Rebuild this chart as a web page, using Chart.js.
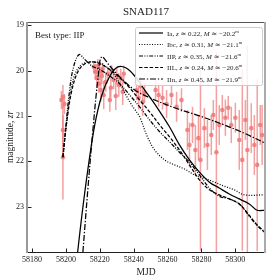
<!DOCTYPE html>
<html>
<head>
<meta charset="utf-8">
<script src="https://cdn.jsdelivr.net/npm/chart.js@4.4.0/dist/chart.umd.min.js"></script>
<style>
  html, body { margin: 0; padding: 0; background: #fff; }
</style>
</head>
<body>
<canvas id="chart" width="280" height="280"></canvas>
<script>
const SERIF = '"Liberation Serif", "DejaVu Serif", serif';

// observations (zr band)
const obsMjd = [58197.3, 58198.2, 58199.1, 58198.2, 58198.2,
  58216.5, 58217.3, 58218.2, 58218.8, 58219.4, 58220.0, 58220.6, 58221.2, 58221.7, 58222.3,
  58223.5, 58224.7, 58225.9, 58226.5, 58227.0, 58228.2, 58229.4, 58230.0, 58231.2, 58232.3,
  58233.5, 58234.1,
  58241.7, 58242.9, 58244.1, 58245.3, 58246.4, 58252.9, 58254.7,
  58257.0, 58259.4, 58262.3, 58265.3, 58268.2,
  58271.7, 58272.9, 58274.7, 58276.4, 58278.2, 58279.4, 58281.7, 58283.5, 58285.8, 58287.0,
  58288.8, 58290.5, 58292.3, 58294.1,
  58295.8, 58297.6, 58300.0, 58302.3, 58304.1, 58305.9, 58307.1, 58309.4, 58311.2, 58312.9,
  58314.7, 58315.8];
const obsMag = [20.65, 20.58, 20.74, 21.31, 21.91,
  19.92, 20.03, 20.16, 19.90, 20.29, 20.03, 20.43, 20.12, 19.96, 20.54,
  20.25, 20.07, 20.65, 20.38, 20.01, 20.21, 20.56, 20.12, 20.32, 20.16,
  20.47, 20.07,
  20.43, 20.60, 20.34, 20.69, 20.49, 20.43, 20.54,
  20.60, 20.74, 20.54, 20.80, 20.65,
  21.31, 21.64, 21.20, 21.75, 21.49, 21.97, 21.27, 21.64, 21.42, 20.98,
  21.80, 21.20, 20.87, 21.04,
  20.82, 21.20, 21.04, 21.53, 21.97, 21.09, 21.75, 21.27, 21.64, 22.08,
  21.20, 21.42];
const obsErr = [0.20, 0.26, 0.22, 0.55, 0.93,
  0.13, 0.18, 0.22, 0.15, 0.20, 0.18, 0.26, 0.18, 0.13, 0.31,
  0.22, 0.15, 0.26, 0.22, 0.13, 0.20, 0.31, 0.18, 0.26, 0.20,
  0.29, 0.18,
  0.22, 0.26, 0.20, 0.31, 0.22, 0.22, 0.26,
  0.26, 0.31, 0.22, 0.33, 0.26,
  0.44, 0.49, 0.40, 0.55, 0.49, 2.00, 0.44, 0.55, 0.44, 0.33,
  2.20, 0.44, 0.33, 0.40,
  0.26, 0.40, 0.33, 0.66, 2.00, 0.44, 2.30, 0.55, 0.66, 1.90,
  0.44, 0.66];

// best-fit templates
const iaMjd = [58206.9, 58209.4, 58212.9, 58217.0, 58221.2, 58225.9, 58230.6, 58235.3, 58240.6, 58246.5,
  58253.5, 58261.1, 58267.0, 58272.9, 58278.8, 58284.7, 58290.5, 58296.4, 58302.3, 58308.2, 58312.9, 58317.6];
const iaMag = [24.0, 23.19, 22.19, 21.20, 20.54, 20.12, 19.92, 19.94, 20.12, 20.43,
  20.80, 21.24, 21.64, 21.97, 22.24, 22.46, 22.59, 22.72, 22.83, 22.94, 23.08, 23.08];

const ibcMjd = [58198.2, 58200.6, 58202.9, 58205.9, 58210.0, 58215.3, 58220.0, 58225.9, 58230.6, 58234.7,
  58238.8, 58243.5, 58247.6, 58252.3, 58258.2, 58264.1, 58270.0, 58275.8, 58281.7, 58287.6,
  58293.5, 58299.4, 58305.2, 58317.6];
const ibcMag = [21.91, 21.09, 20.43, 20.03, 19.85, 19.81, 19.83, 19.98, 20.21, 20.49,
  20.76, 21.02, 21.42, 21.75, 21.97, 22.08, 22.17, 22.30, 22.37, 22.46,
  22.55, 22.63, 22.74, 22.74];

const iipMjd = [58198.2, 58200.0, 58201.8, 58204.1, 58207.6, 58211.2, 58215.3, 58220.0, 58225.9, 58231.7,
  58237.6, 58243.5, 58249.4, 58255.3, 58261.1, 58267.0, 58272.9, 58278.8, 58284.7, 58290.5,
  58296.4, 58302.3, 58308.2, 58312.9, 58317.6];
const iipMag = [21.91, 21.20, 20.54, 19.98, 19.65, 19.76, 19.90, 19.98, 20.12, 20.29,
  20.54, 20.80, 21.09, 21.35, 21.57, 21.80, 22.02, 22.30, 22.59, 22.77,
  22.83, 22.94, 23.21, 23.41, 23.56];

const iilMjd = [58198.2, 58200.6, 58203.5, 58207.0, 58211.2, 58215.9, 58220.0, 58225.9, 58231.7, 58237.6,
  58243.5, 58249.4, 58255.3, 58261.1, 58267.0, 58272.9, 58278.8, 58284.7, 58290.5, 58296.4,
  58302.3, 58308.2, 58312.9, 58317.6];
const iilMag = [21.91, 21.09, 20.43, 20.03, 19.85, 19.81, 19.85, 19.98, 20.16, 20.38,
  20.65, 20.91, 21.20, 21.46, 21.75, 22.08, 22.41, 22.63, 22.74, 22.83,
  22.94, 23.19, 23.41, 23.58];

const iinMjd = [58210.0, 58212.9, 58215.9, 58218.8, 58221.0, 58225.9, 58231.7, 58240.6, 58249.4, 58264.1,
  58278.8, 58293.5, 58305.2, 58317.6];
const iinMag = [24.0, 22.63, 21.31, 20.21, 19.70, 19.90, 20.14, 20.43, 20.60, 20.82,
  21.00, 21.20, 21.38, 21.60];

const modelNames = ['Ia', 'Ibc', 'IIP', 'IIL', 'IIn'];
const modelZ = ['0.22', '0.31', '0.35', '0.24', '0.45'];
const modelM = ['20.2', '21.1', '21.6', '20.6', '21.9'];

const xTicks = [58180, 58200, 58220, 58240, 58260, 58280, 58300];
const yTicks = [19, 20, 21, 22, 23];

const pts = (xs, ys) => xs.map((x, i) => ({x: x, y: ys[i]}));

const dashes = [[], [1, 1.6], [4, 1.4, 1, 1.4, 1, 1.4], [3.5, 1.8], [6, 1.8, 1.4, 1.8]];
const curves = [[iaMjd, iaMag], [ibcMjd, ibcMag], [iipMjd, iipMag], [iilMjd, iilMag], [iinMjd, iinMag]];

const datasets = curves.map((c, i) => ({
  label: modelNames[i],
  data: pts(c[0], c[1]),
  showLine: true,
  borderColor: '#000',
  borderWidth: 1.25,
  borderDash: dashes[i],
  pointRadius: 0,
  tension: 0.35,
  order: 0
}));
datasets.push({
  label: 'obs',
  data: pts(obsMjd, obsMag),
  showLine: false,
  pointRadius: 2.3,
  pointBackgroundColor: 'rgba(240,120,120,0.85)',
  pointBorderWidth: 0,
  order: 1
});

// vertical error bars behind everything
const errorBars = {
  id: 'errorBars',
  beforeDatasetsDraw(chart) {
    const {ctx, chartArea: a} = chart;
    const x = chart.scales.x, y = chart.scales.y;
    ctx.save();
    ctx.beginPath();
    ctx.rect(a.left, a.top, a.right - a.left, a.bottom - a.top);
    ctx.clip();
    ctx.strokeStyle = 'rgba(240,120,120,0.7)';
    ctx.lineWidth = 1.5;
    obsMjd.forEach((m, i) => {
      const px = x.getPixelForValue(m);
      ctx.beginPath();
      ctx.moveTo(px, y.getPixelForValue(obsMag[i] - obsErr[i]));
      ctx.lineTo(px, y.getPixelForValue(obsMag[i] + obsErr[i]));
      ctx.stroke();
    });
    ctx.restore();
  }
};

function richText(ctx, x, y, parts, size) {
  parts.forEach(p => {
    const [txt, st] = p;
    let dy = 0, fs = size, style = '';
    if (st === 'i') style = 'italic ';
    if (st === 's') { fs = size * 0.65; dy = -size * 0.4; }
    ctx.font = style + fs + 'px ' + SERIF;
    ctx.fillText(txt, x, y + dy);
    x += ctx.measureText(txt).width;
  });
}

const decor = {
  id: 'decor',
  afterDraw(chart) {
    const {ctx, chartArea: a} = chart;
    const x = chart.scales.x, y = chart.scales.y;
    ctx.save();

    // frame
    ctx.strokeStyle = '#555'; ctx.lineWidth = 1;
    ctx.beginPath(); ctx.moveTo(a.left, a.top + 0.5); ctx.lineTo(a.right, a.top + 0.5); ctx.stroke();
    ctx.strokeStyle = '#222';
    ctx.beginPath(); ctx.moveTo(a.left, a.bottom + 0.5); ctx.lineTo(a.right, a.bottom + 0.5); ctx.stroke();
    ctx.strokeStyle = '#999'; ctx.lineWidth = 2;
    ctx.beginPath(); ctx.moveTo(a.left, a.top); ctx.lineTo(a.left, a.bottom + 1); ctx.stroke();
    ctx.strokeStyle = '#aaa';
    ctx.beginPath(); ctx.moveTo(a.right, a.top); ctx.lineTo(a.right, a.bottom + 1); ctx.stroke();

    // inward ticks
    ctx.strokeStyle = '#222'; ctx.lineWidth = 1;
    xTicks.forEach(v => {
      const px = Math.round(x.getPixelForValue(v)) + 0.5;
      ctx.beginPath(); ctx.moveTo(px, a.bottom); ctx.lineTo(px, a.bottom - 3.5); ctx.stroke();
    });
    yTicks.forEach(v => {
      const py = Math.round(y.getPixelForValue(v)) + 0.5;
      ctx.beginPath(); ctx.moveTo(a.left + 1, py); ctx.lineTo(a.left + 4.5, py); ctx.stroke();
    });

    ctx.fillStyle = '#222';
    ctx.textBaseline = 'alphabetic';

    // title
    ctx.textAlign = 'center';
    ctx.font = '11px ' + SERIF;
    ctx.fillText('SNAD117', (a.left + a.right) / 2, 14.5);

    // x label
    ctx.font = '9.5px ' + SERIF;
    ctx.fillText('MJD', (a.left + a.right) / 2, 275);

    // y label
    ctx.save();
    ctx.translate(13, (a.top + a.bottom) / 2);
    ctx.rotate(-Math.PI / 2);
    ctx.font = '9.5px ' + SERIF;
    const w1 = ctx.measureText('magnitude, ').width;
    ctx.font = 'italic 9.5px ' + SERIF;
    const w2 = ctx.measureText('zr').width;
    ctx.textAlign = 'left';
    richText(ctx, -(w1 + w2) / 2, 0, [['magnitude, ', 'n'], ['zr', 'i']], 9.5);
    ctx.restore();

    // best type
    ctx.textAlign = 'left';
    ctx.font = '9px ' + SERIF;
    ctx.fillText('Best type: IIP', 35, 38);

    // legend
    const lx = 135, ly = 27, lw = 127, lh = 58;
    ctx.fillStyle = 'rgba(255,255,255,0.85)';
    ctx.strokeStyle = '#ccc';
    ctx.lineWidth = 1;
    ctx.beginPath();
    ctx.roundRect(lx + 0.5, ly + 0.5, lw, lh, 2);
    ctx.fill(); ctx.stroke();
    modelNames.forEach((n, i) => {
      const ry = 33 + i * 11.5;
      ctx.strokeStyle = '#000';
      ctx.lineWidth = 1.2;
      ctx.setLineDash(dashes[i]);
      ctx.beginPath(); ctx.moveTo(139, ry); ctx.lineTo(163, ry); ctx.stroke();
      ctx.setLineDash([]);
      ctx.fillStyle = '#222';
      richText(ctx, 167, ry + 2.5, [
        [n + ', ', 'n'], ['z', 'i'], [' \u2243 ' + modelZ[i] + ', ', 'n'],
        ['M', 'i'], [' \u2243 \u2212' + modelM[i], 'n'], ['m', 's']
      ], 7);
    });

    ctx.restore();
  }
};

new Chart(document.getElementById('chart'), {
  type: 'scatter',
  data: { datasets: datasets },
  options: {
    responsive: false,
    animation: false,
    devicePixelRatio: 1,
    layout: { padding: { top: 22, right: 15, left: 0, bottom: 0 } },
    plugins: { legend: { display: false }, tooltip: { enabled: false }, title: { display: false } },
    scales: {
      x: {
        type: 'linear',
        min: 58177,
        max: 58317.5,
        grid: { display: false, drawTicks: false },
        border: { display: false },
        ticks: { padding: 3, color: '#222', font: { family: SERIF, size: 8 }, maxRotation: 0,
                 callback: v => String(v) },
        afterBuildTicks: s => { s.ticks = xTicks.map(v => ({value: v})); },
        afterFit: s => { s.height = 28; }
      },
      y: {
        type: 'linear',
        reverse: true,
        min: 18.93,
        max: 24.0,
        grid: { display: false, drawTicks: false },
        border: { display: false },
        ticks: { padding: 3, color: '#222', font: { family: SERIF, size: 8 } },
        afterBuildTicks: s => { s.ticks = yTicks.map(v => ({value: v})); },
        afterFit: s => { s.height = s.height; s.width = 27; }
      }
    }
  },
  plugins: [errorBars, decor]
});
</script>
</body>
</html>
